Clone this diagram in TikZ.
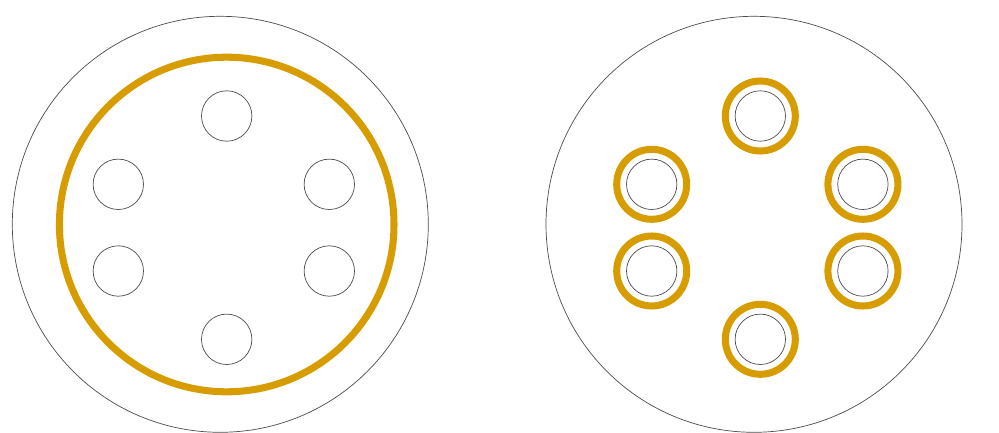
\documentclass[tikz,border=0pt]{standalone}
\definecolor{ringgold}{RGB}{214,156,0}
\tikzset{
    thinline/.style={draw=black!70, line width=0.5pt},
    goldring/.style={draw=ringgold, line width=5pt}
}
\begin{document}
\begin{tikzpicture}[x=0.025cm, y=-0.025cm]
        \useasboundingbox (0,0) rectangle (999,433);

        % left
        \draw[thinline] (220.3,224.3) circle (208);
        \draw[goldring] (226.7,224.5) circle (167.3);
        \draw[thinline] (226.7,116) circle (25.2);
        \draw[thinline] (118.3,184.3) circle (25.2);
        \draw[thinline] (329.3,184.3) circle (25.2);
        \draw[thinline] (118.3,271) circle (25.2);
        \draw[thinline] (329.3,271) circle (25.2);
        \draw[thinline] (226.7,339.3) circle (25.2);

        % right
        \draw[thinline] (754,224.3) circle (208);
        \draw[goldring] (760.3,116) circle (35);
        \draw[thinline] (760.3,116) circle (25.2);
        \draw[goldring] (651.7,184.3) circle (35);
        \draw[thinline] (651.7,184.3) circle (25.2);
        \draw[goldring] (862.9,184.3) circle (35);
        \draw[thinline] (862.9,184.3) circle (25.2);
        \draw[goldring] (651.7,271) circle (35);
        \draw[thinline] (651.7,271) circle (25.2);
        \draw[goldring] (862.9,271) circle (35);
        \draw[thinline] (862.9,271) circle (25.2);
        \draw[goldring] (760.3,339.3) circle (35);
        \draw[thinline] (760.3,339.3) circle (25.2);
\end{tikzpicture}
\end{document}
